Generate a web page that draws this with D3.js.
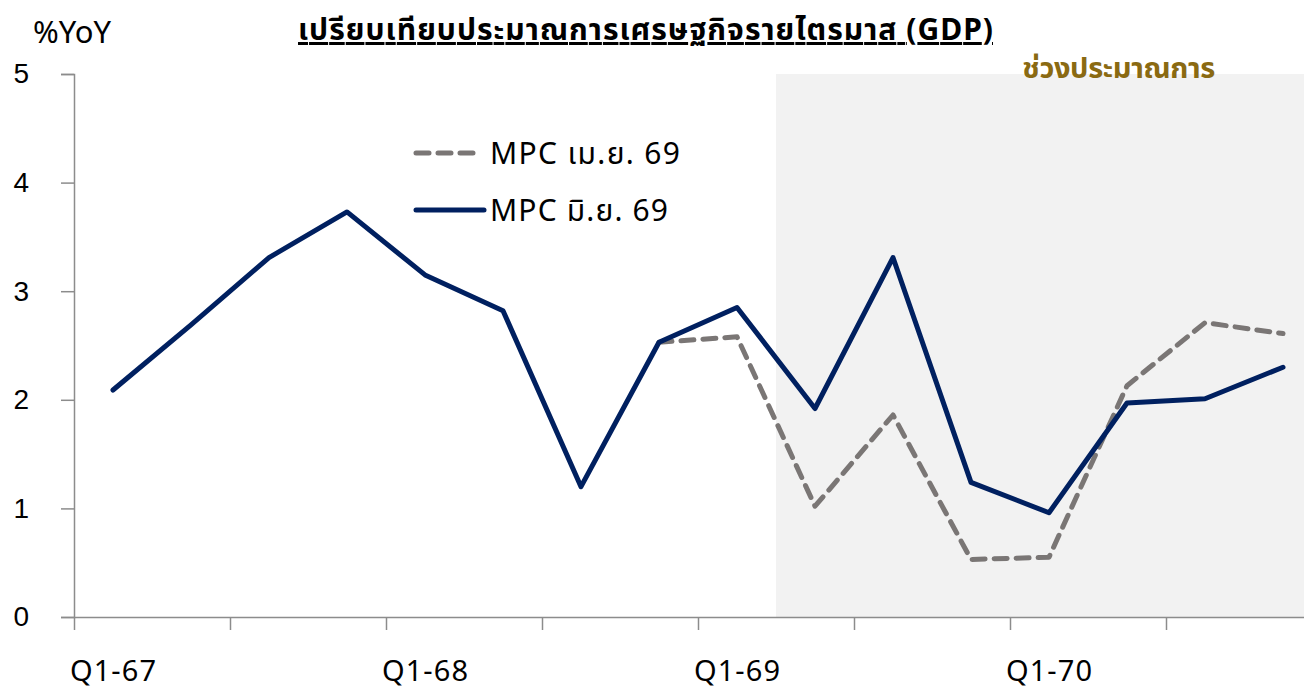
<!DOCTYPE html>
<html>
<head>
<meta charset="utf-8">
<script src="https://cdn.jsdelivr.net/npm/d3@7"></script>
<style>
  body { margin: 0; background: #fff; }
  svg { display: block; font-family: "Noto Sans", "Noto Sans Thai", Tahoma, sans-serif; }
</style>
</head>
<body>
<svg width="1304" height="689"></svg>
<script>
// quarters on the x axis
const quarters = ["Q1-67","Q2-67","Q3-67","Q4-67","Q1-68","Q2-68","Q3-68","Q4-68",
                  "Q1-69","Q2-69","Q3-69","Q4-69","Q1-70","Q2-70","Q3-70","Q4-70"];

// MPC June 69 (solid line)
const mpcJun = [2.09, 2.69, 3.31, 3.73, 3.15, 2.82, 1.20, 2.53,
                2.85, 1.92, 3.31, 1.24, 0.96, 1.97, 2.01, 2.30];

// MPC April 69 (dashed line), starts at Q4-68
const mpcApr = [null, null, null, null, null, null, null, 2.53,
                2.58, 1.02, 1.86, 0.53, 0.55, 2.13, 2.71, 2.61];

const yTicks = [0, 1, 2, 3, 4, 5];
const labelQuarters = ["Q1-67", "Q1-68", "Q1-69", "Q1-70"];
const forecastStart = "Q2-69";

const width = 1304, height = 689;
const plotLeft = 74, plotTop = 74, plotBottom = 617;

const svg = d3.select("svg");

// band scale for the quarters, one band = 78px
let xScale = d3.scaleBand().domain(quarters).range([plotLeft, plotLeft + quarters.length * 78]).padding(0);
let xCenter = (q) => xScale(q) + xScale.bandwidth() / 2;
let yScale = d3.scaleLinear().domain([0, 5]).range([plotBottom, plotTop]);

// forecast shading
let shadeX = xScale(forecastStart);
svg.append("rect")
    .attr("x", shadeX)
    .attr("y", yScale(5))
    .attr("width", width - shadeX)
    .attr("height", yScale(0) - yScale(5))
    .attr("fill", "#f2f2f2");

// y axis
let y_Axis = d3.axisLeft(yScale).tickValues(yTicks).tickSize(13).tickPadding(32).tickFormat(d3.format("d"));
let yg = svg.append("g").attr("transform", "translate(" + plotLeft + ",0)").call(y_Axis);
yg.select(".domain").attr("stroke", "#8c8c8c").attr("stroke-width", 1.5);
yg.selectAll(".tick line").attr("stroke", "#8c8c8c").attr("stroke-width", 1.5);
yg.selectAll(".tick text").style("font-size", "28px").attr("fill", "#000");

// x axis: ticks at every second band boundary
let idxScale = d3.scaleLinear().domain([0, quarters.length]).range(xScale.range());
let x_Axis = d3.axisBottom(idxScale).tickValues(d3.range(0, quarters.length + 1, 2)).tickSize(13).tickSizeOuter(0).tickFormat("");
let xg = svg.append("g").attr("transform", "translate(0," + plotBottom + ")").call(x_Axis);
xg.select(".domain").attr("stroke", "#8c8c8c").attr("stroke-width", 1.5);
xg.selectAll(".tick line").attr("stroke", "#8c8c8c").attr("stroke-width", 1.5);

// x labels
svg.selectAll(".xlab").data(labelQuarters).enter()
    .append("text")
    .attr("class", "xlab")
    .attr("x", (d) => xCenter(d))
    .attr("y", 681)
    .attr("text-anchor", "middle")
    .style("font-size", "29px")
    .attr("textLength", 86)
    .text((d) => d);

// lines
let line = d3.line()
    .defined((d) => d.v !== null)
    .x((d) => xCenter(d.q))
    .y((d) => yScale(d.v));

let aprData = quarters.map((q, i) => ({q: q, v: mpcApr[i]}));
let junData = quarters.map((q, i) => ({q: q, v: mpcJun[i]}));

svg.append("path")
    .datum(aprData)
    .attr("d", line)
    .attr("fill", "none")
    .attr("stroke", "#7a7675")
    .attr("stroke-width", 5)
    .attr("stroke-dasharray", "13,9")
    .attr("stroke-linecap", "round")
    .attr("stroke-linejoin", "round");

svg.append("path")
    .datum(junData)
    .attr("d", line)
    .attr("fill", "none")
    .attr("stroke", "#002060")
    .attr("stroke-width", 5)
    .attr("stroke-linejoin", "round")
    .attr("stroke-linecap", "round");

// legend
svg.append("line")
    .attr("x1", 416).attr("x2", 479).attr("y1", 153).attr("y2", 153)
    .attr("stroke", "#7a7675").attr("stroke-width", 5)
    .attr("stroke-dasharray", "13,9").attr("stroke-linecap", "round");
svg.append("text").attr("x", 490).attr("y", 164).style("font-size", "30px")
    .attr("textLength", 190).text("MPC เม.ย. 69");

svg.append("line")
    .attr("x1", 416).attr("x2", 484).attr("y1", 210).attr("y2", 210)
    .attr("stroke", "#002060").attr("stroke-width", 5).attr("stroke-linecap", "round");
svg.append("text").attr("x", 490).attr("y", 221).style("font-size", "30px")
    .attr("textLength", 178).text("MPC มิ.ย. 69");

// titles
svg.append("text").attr("x", 33).attr("y", 43).style("font-size", "31px")
    .text("%YoY");

svg.append("text")
    .attr("x", 298).attr("y", 40)
    .style("font-size", "30px")
    .style("font-weight", "bold")
    .style("text-decoration", "underline")
    .attr("textLength", 695)
    .text("เปรียบเทียบประมาณการเศรษฐกิจรายไตรมาส (GDP)");

svg.append("text")
    .attr("x", 1022).attr("y", 78)
    .style("font-size", "29px")
    .style("font-weight", "bold")
    .attr("fill", "#8a6a12")
    .attr("textLength", 193)
    .text("ช่วงประมาณการ");
</script>
</body>
</html>
